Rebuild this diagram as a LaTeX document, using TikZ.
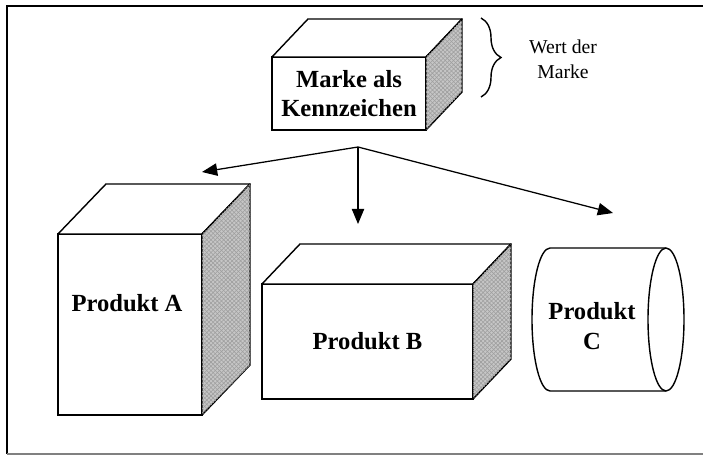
\documentclass[tikz,border=0pt]{standalone}
\usepackage{fontspec}
\setmainfont{Liberation Serif}
\usetikzlibrary{
    positioning,
    arrows.meta,
    patterns,
    decorations.pathreplacing
}
\tikzset{
  frontface/.style = {
      draw,
      line width=1pt,
      fill=white,
      outer sep=0pt,
      inner sep=0pt,
      align=center,
      font=\fontsize{17.5}{21}\selectfont\bfseries
  },
  boxtext/.style = {
      align=center,
      font=\fontsize{17.5}{21}\selectfont\bfseries
  },
  lidface/.style = {
      draw,
      line width=1pt,
      fill=white,
      line join=round
  },
  sideface/.style = {
      draw,
      line width=1pt,
      fill=gray!45,
      line join=round,
      postaction={pattern=crosshatch, pattern color=gray!75}
  },
  branch/.style = {
      line width=0.9pt,
      -{Triangle[length=3.8mm,width=3.1mm]}
  },
  frame/.style = {
      line width=1.6pt
  },
  note/.style = {
      align=center,
      font=\fontsize{14}{17.5}\selectfont
  }
}
\begin{document}
\begin{tikzpicture}[x=0.025cm, y=-0.025cm]
    \useasboundingbox (0,0) rectangle (703,455);
    % Frame
    \draw[frame] (703,6) -- (7,6) -- (7,454);
    \draw[line width=0.8pt, gray] (7,454) -- (703,454);
    % Nodes
    \node[frontface, minimum width=3.85cm, minimum height=1.825cm] (marke) at (349,93.5) {Marke als\\Kennzeichen};
    \node[frontface, minimum width=3.6cm, minimum height=4.525cm] (prodA) at (130,324.5) {};
    \node[boxtext] (textA) at (127,303) {Produkt A};
    \node[frontface, minimum width=5.275cm, minimum height=2.875cm] (prodB) at (367.5,341.5) {Produkt B};
    \foreach \n/\dx/\dy in {marke/36/38, prodA/48/50, prodB/38/40}{
        \filldraw[lidface] (\n.north west) -- ++(\dx,-\dy)
            -- ([shift={(\dx,-\dy)}]\n.north east) -- (\n.north east) -- cycle;
        \filldraw[sideface] (\n.north east) -- ++(\dx,-\dy)
            -- ([shift={(\dx,-\dy)}]\n.south east) -- (\n.south east) -- cycle;
    }
    % Cylinder
    \filldraw[lidface] (666,248) -- (550,248)
        arc[start angle=270, end angle=90, x radius=18, y radius=71.5] -- (666,391);
    \draw[lidface] (666,319.5) ellipse[x radius=18, y radius=71.5];
    \node[boxtext] (prodC) at (592,326) {Produkt\\C};
    % Brace
    \draw[line width=1pt, decorate, decoration={brace, amplitude=0.5cm}] (481,18) -- (481,97);
    \node[note] (wert) at (563,59.5) {Wert der\\Marke};
    % Edges
    \coordinate (hub) at (358,147);
    \coordinate (toA) at (202,172);
    \coordinate (toB) at (358,224);
    \coordinate (toC) at (613,213);
    \draw[branch] (hub) -- (toA);
    \draw[branch] (hub) -- (toB);
    \draw[branch] (hub) -- (toC);
\end{tikzpicture}
\end{document}
